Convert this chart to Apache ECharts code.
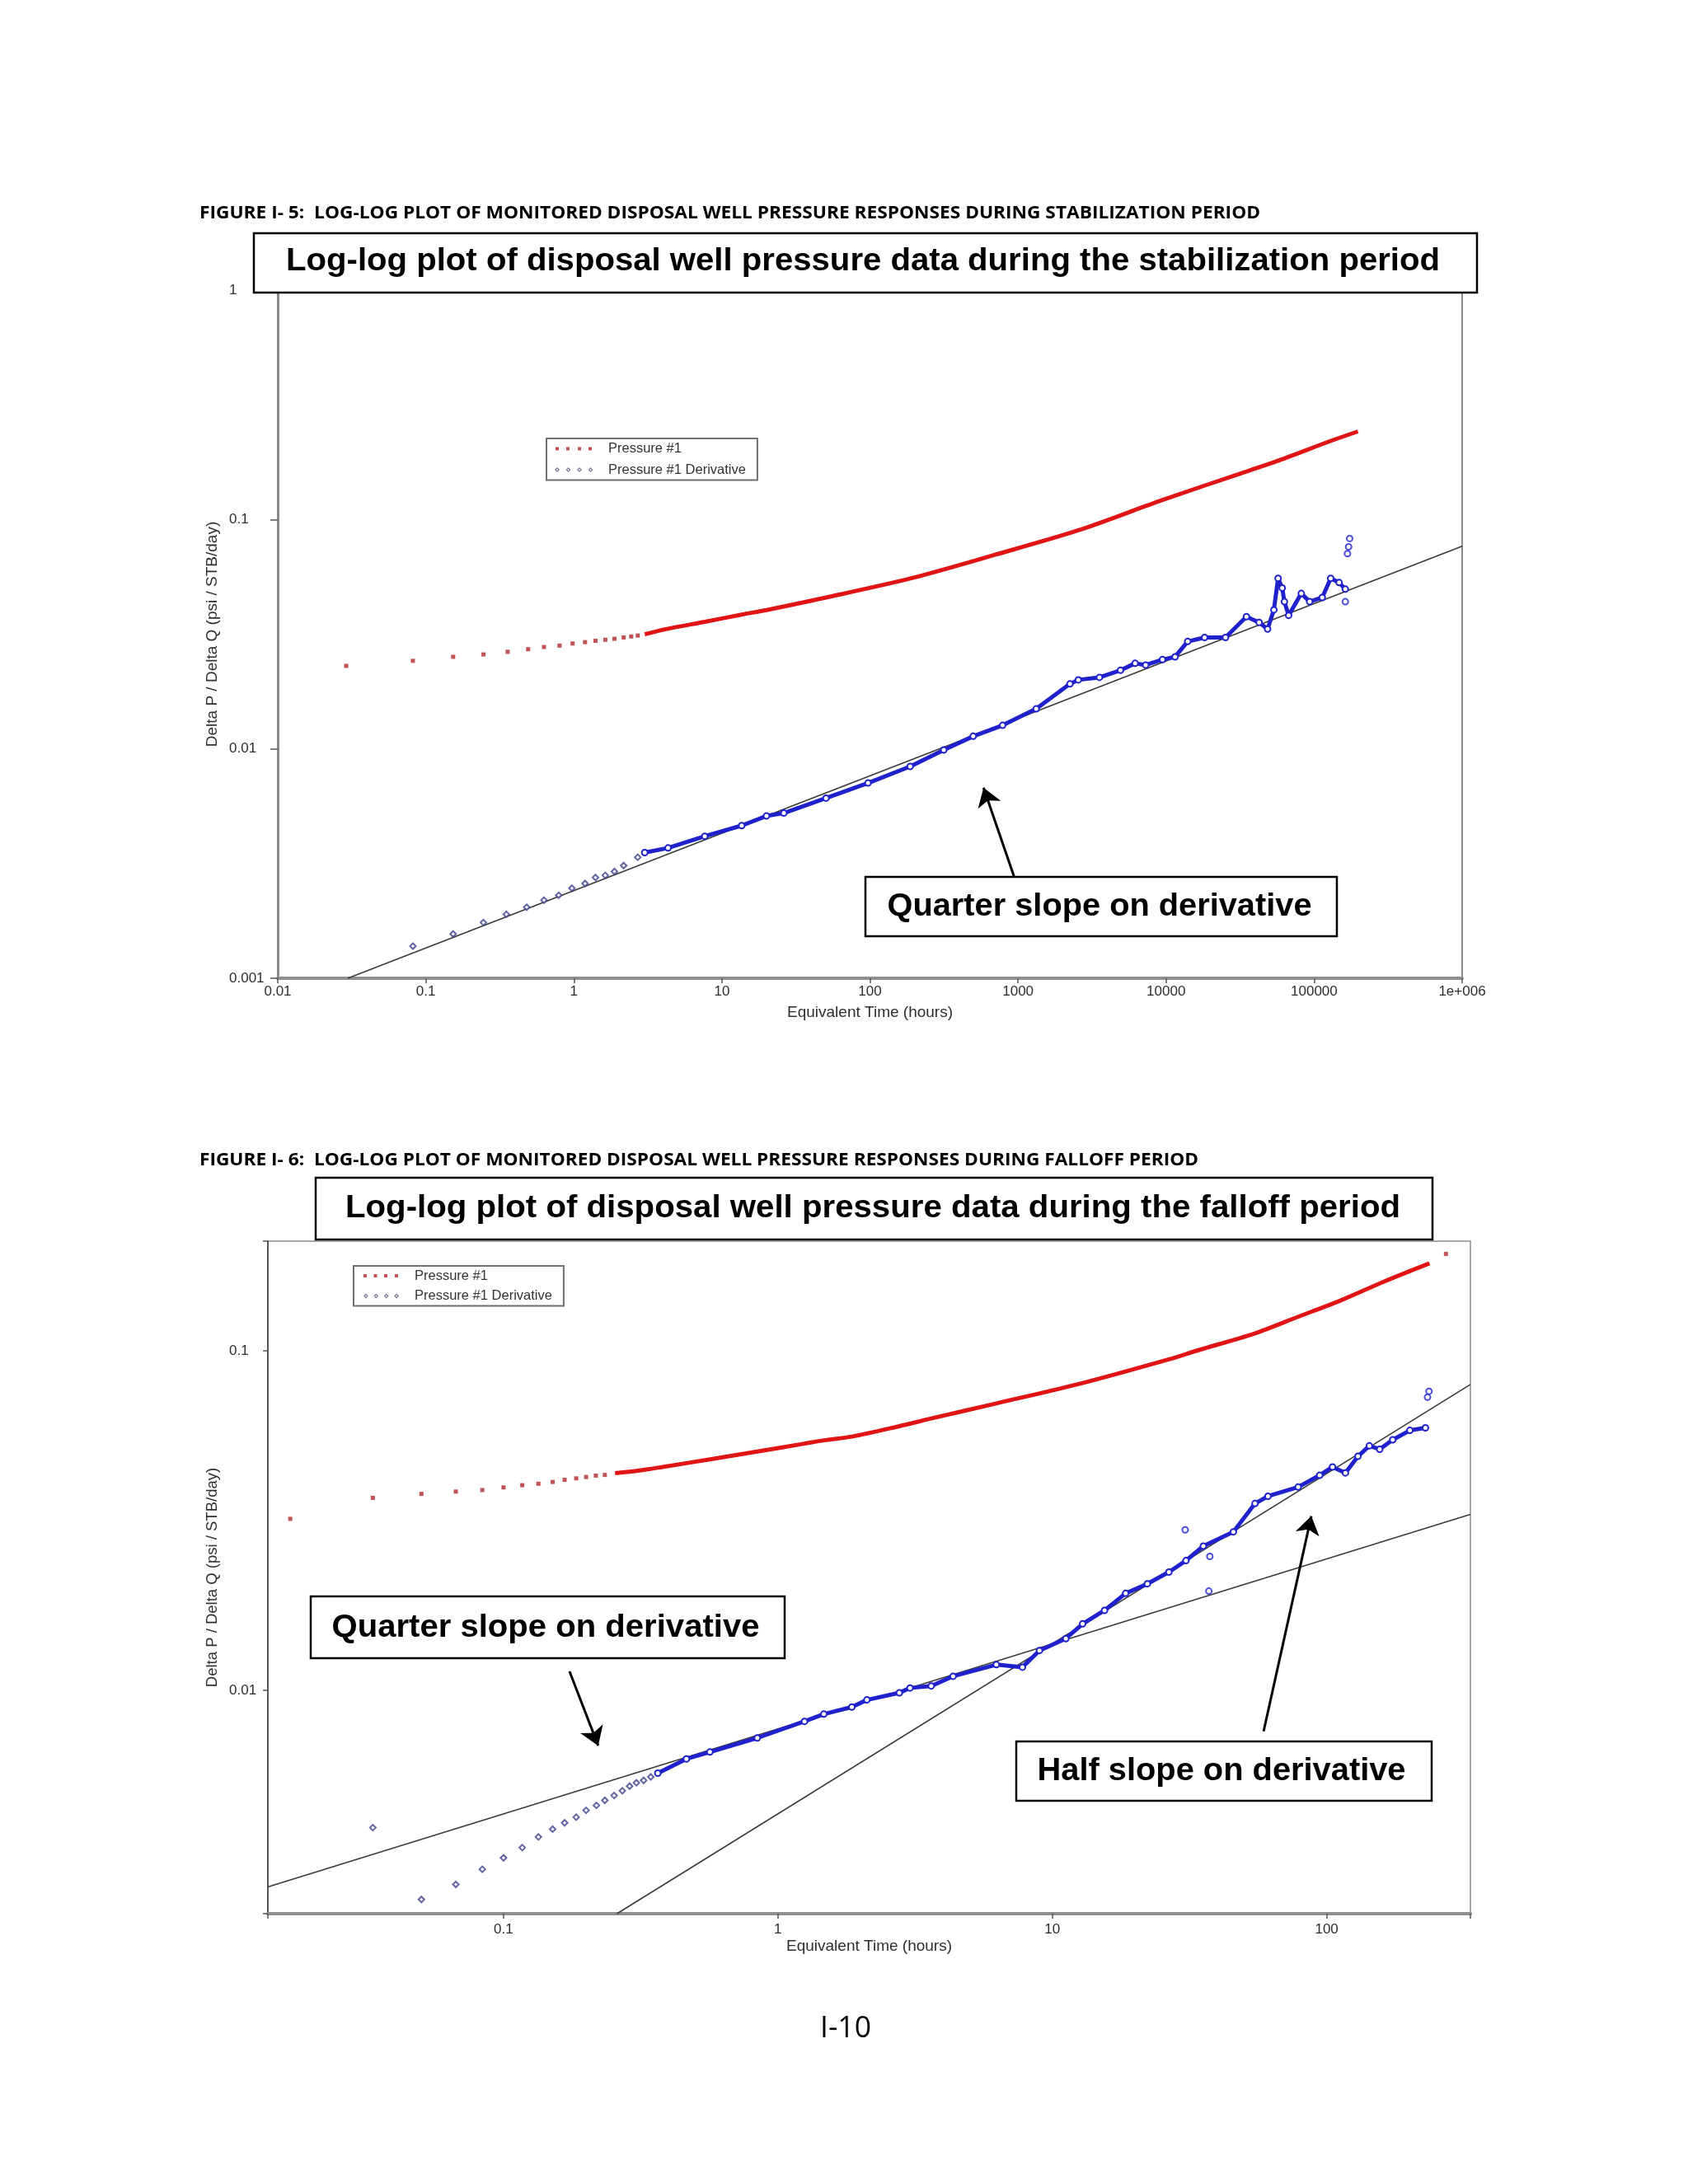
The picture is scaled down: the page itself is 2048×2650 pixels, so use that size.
<!DOCTYPE html>
<html><head><meta charset="utf-8">
<script src="https://cdn.jsdelivr.net/npm/echarts@6/dist/echarts.min.js"></script>
<style>html,body{margin:0;padding:0;background:#fff;}#c{width:2048px;height:2650px;}</style>
</head><body><div id="c"></div>
<script>
// ---------- Figure I-5 (stabilization period) ----------
const c1XTickValues = [0.01, 0.1, 1, 10, 100, 1000, 10000, 100000, 1000000];
const c1XTickLabels = ['0.01', '0.1', '1', '10', '100', '1000', '10000', '100000', '1e+006'];
const c1YTickValues = [0.001, 0.01, 0.1, 1];
const c1YTickLabels = ['0.001', '0.01', '0.1', '1'];

const c1PressureSparse = [[0.029,0.0230],[0.0818,0.0242],[0.153,0.0252],[0.245,0.0258],[0.357,0.0265],[0.491,0.0272],[0.628,0.0278],[0.80,0.0282],[0.98,0.0288],[1.19,0.0292],[1.40,0.0296],[1.63,0.0299],[1.88,0.0302],[2.17,0.0306],[2.44,0.0309],[2.70,0.0312]];
const c1PressureDense = [[3.01,0.0316],[4.33,0.0334],[7.66,0.0358],[13.6,0.0385],[20,0.0403],[50.5,0.0457],[187,0.0553],[690,0.0700],[2556,0.0897],[9460,0.1216],[34940,0.1620],[55300,0.179],[129500,0.220],[197800,0.242]];
const c1DerivSparse = [[0.0818,0.00138],[0.153,0.00156],[0.245,0.00175],[0.35,0.00190],[0.48,0.00204],[0.628,0.00219],[0.79,0.00230],[0.97,0.00247],[1.19,0.00259],[1.40,0.00275],[1.63,0.00281],[1.88,0.00292],[2.17,0.00310],[2.70,0.00337]];
const c1DerivDense = [[3.01,0.00353],[4.33,0.00370],[7.66,0.00416],[13.6,0.00463],[20.0,0.00510],[26.2,0.00525],[50.5,0.00610],[97,0.00710],[187,0.00838],[315,0.00989],[498,0.01135],[787,0.01267],[1327,0.01495],[2243,0.0192],[2556,0.0200],[3548,0.0205],[4920,0.0220],[6180,0.0236],[7280,0.0232],[9460,0.0245],[11510,0.0252],[14000,0.0294],[18200,0.0306],[25200,0.0306],[34900,0.0377],[42500,0.0356],[48500,0.0333],[53500,0.0404],[57100,0.0554],[60900,0.0503],[63000,0.0438],[67300,0.0382],[81900,0.0476],[93300,0.0438],[113500,0.0457],[129400,0.0554],[147500,0.0531],[162500,0.0497]];
const c1DerivOutliers = [[162500,0.0438],[168000,0.0710],[171000,0.0760],[173800,0.0826]];
const c1QuarterLine = [[0.0297,0.001],[1000000,0.0765]];
const c1Arrow = [[938,0.00279],[585,0.00678]];

// ---------- Figure I-6 (falloff period) ----------
const c2XTickValues = [0.1, 1, 10, 100];
const c2XTickLabels = ['0.1', '1', '10', '100'];
const c2YTickValues = [0.01, 0.1];
const c2YTickLabels = ['0.01', '0.1'];

const c2PressureSparse = [[0.0167,0.0320],[0.0334,0.0369],[0.0502,0.0379],[0.0670,0.0385],[0.0837,0.0389],[0.100,0.0396],[0.117,0.0402],[0.134,0.0406],[0.151,0.0411],[0.167,0.0417],[0.184,0.0421],[0.200,0.0425],[0.217,0.0429],[0.234,0.0431],[272,0.193]];
const c2PressureDense = [[0.255,0.0436],[0.312,0.0444],[0.380,0.0455],[0.565,0.0479],[0.841,0.0505],[1.25,0.0533],[1.47,0.0545],[1.86,0.0559],[2.77,0.0600],[3.62,0.0632],[6.25,0.0700],[12.9,0.0804],[26.6,0.0944],[34.3,0.1006],[54.8,0.1126],[78.7,0.126],[113,0.141],[162,0.160],[237,0.181]];
const c2DerivSparse = [[0.0334,0.00394],[0.0502,0.00242],[0.067,0.00268],[0.0837,0.00297],[0.100,0.00321],[0.117,0.00344],[0.134,0.00370],[0.151,0.00390],[0.167,0.00407],[0.184,0.00423],[0.200,0.00443],[0.218,0.00458],[0.234,0.00474],[0.253,0.00490],[0.271,0.00506],[0.288,0.00522],[0.305,0.00534],[0.324,0.00543],[0.344,0.00556]];
const c2DerivDense = [[0.365,0.00570],[0.464,0.00628],[0.565,0.00658],[0.841,0.00724],[1.25,0.00810],[1.47,0.00851],[1.86,0.00893],[2.11,0.00937],[2.77,0.00983],[3.03,0.01016],[3.62,0.0103],[4.35,0.0110],[6.25,0.0119],[7.78,0.0117],[8.98,0.0131],[11.2,0.0142],[12.9,0.0157],[15.5,0.0172],[18.5,0.0193],[22.2,0.0206],[26.6,0.0223],[30.7,0.0241],[35.5,0.0266],[45.7,0.0293],[54.8,0.0355],[61.1,0.0373],[78.7,0.0397],[94.3,0.0430],[105,0.0455],[117,0.0437],[130,0.0489],[143,0.0525],[156,0.0513],[174,0.0547],[201,0.0583],[229,0.0593]];
const c2DerivOutliers = [[30.5,0.0297],[37.5,0.0248],[37.2,0.0196],[233,0.0730],[236,0.0760]];
const c2QuarterLine = [[0.01384,0.002636],[334,0.0330]];
const c2HalfLine = [[0.259,0.002198],[334,0.0796]];
const c2ArrowQuarter = [[0.174,0.01137],[0.2213,0.00687]];
const c2ArrowHalf = [[58.9,0.00757],[87.9,0.0326]];

// ---------- texts ----------
const caption1 = 'FIGURE I- 5:  LOG-LOG PLOT OF MONITORED DISPOSAL WELL PRESSURE RESPONSES DURING STABILIZATION PERIOD';
const caption2 = 'FIGURE I- 6:  LOG-LOG PLOT OF MONITORED DISPOSAL WELL PRESSURE RESPONSES DURING FALLOFF PERIOD';
const title1 = 'Log-log plot of disposal well pressure data during the stabilization period';
const title2 = 'Log-log plot of disposal well pressure data during the falloff period';
const note1 = 'Quarter slope on derivative';
const note2 = 'Quarter slope on derivative';
const note3 = 'Half slope on derivative';
const pageNo = 'I-10';
const xName = 'Equivalent Time (hours)';
const yName = 'Delta P / Delta Q (psi / STB/day)';

const mctx = document.createElement('canvas').getContext('2d');
function fit(text, font, w) { mctx.font = font; return w / mctx.measureText(text).width; }

function tickFmt(values, labels) {
  return function (v) {
    const lv = Math.log10(v);
    for (let i = 0; i < values.length; i++) {
      if (Math.abs(lv - Math.log10(values[i])) < 1e-6) return labels[i];
    }
    return '';
  };
}

const F = 'Liberation Sans';
const fCap = 'bold 22px "Open Sans"';
const fTitle = 'bold 38px "Liberation Sans"';
const fNote = 'bold 39px "Liberation Sans"';
const fPage = '36px "Open Sans"';

const iconP1 = 'path://M0 0L0 0.01M61 7L61 6.99M2 1.5h4v4h-4zM15 1.5h4v4h-4zM29 1.5h4v4h-4zM42 1.5h4v4h-4z';
const iconD1 = 'path://M0 0L0 0.01M61 7L61 6.99' +
  [4, 17.5, 31, 44.5].map(c => `M${c} 0.6L${c+2.9} 3.5L${c} 6.4L${c-2.9} 3.5ZM${c} 2.3L${c-1.2} 3.5L${c} 4.7L${c+1.2} 3.5Z`).join('');
const iconP2 = 'path://M0 0L0 0.01M57 7L57 6.99M0 1.5h4v4h-4zM12.5 1.5h4v4h-4zM25 1.5h4v4h-4zM38 1.5h4v4h-4z';
const iconD2 = 'path://M0 0L0 0.01M57 7L57 6.99' +
  [2.5, 15, 27.5, 40].map(c => `M${c} 0.6L${c+2.9} 3.5L${c} 6.4L${c-2.9} 3.5ZM${c} 2.3L${c-1.2} 3.5L${c} 4.7L${c+1.2} 3.5Z`).join('');

const axisLabelStyle = { fontFamily: F, fontSize: 17, color: '#2e2e2e' };
const nameStyle = { fontFamily: F, fontSize: 19, color: '#2e2e2e' };

function textEl(text, font, x, y, w, align) {
  return { type: 'text', x: x, y: y, z: 101, scaleX: fit(text, font, w),
    style: { text: text, font: font, fill: '#000', align: align || 'center', verticalAlign: 'middle' } };
}
function boxEl(x, y, w, h) {
  return { type: 'rect', z: 100, shape: { x: x, y: y, width: w, height: h },
    style: { fill: '#fff', stroke: '#000', lineWidth: 2.5 } };
}

const redDot = '#b3282b', redLine = '#e01414', blue = '#1f22cc', navy = '#3c3f8c';

function seriesFor(ax, pS, pD, dS, dD, dO, refLines, arrows) {
  const s = [];
  refLines.forEach((ln, i) => {
    s.push({ type: 'line', name: 'ref' + ax + '_' + i, xAxisIndex: ax, yAxisIndex: ax, data: ln, showSymbol: false,
      silent: true, z: 3, lineStyle: { color: '#3a3a3a', width: 1.6 },
      markLine: i === 0 ? { silent: true, symbol: ['none', 'arrow'], symbolSize: 22, label: { show: false },
        lineStyle: { color: '#000', width: 3, type: 'solid' }, emphasis: { disabled: true },
        data: arrows.map(a => [{ coord: a[0] }, { coord: a[1] }]) } : undefined });
  });
  s.push({ type: 'line', name: 'Pressure #1 curve', xAxisIndex: ax, yAxisIndex: ax, data: pD, showSymbol: false,
    smooth: 0.3, z: 4, lineStyle: { color: redLine, width: 5 } });
  s.push({ type: 'scatter', name: 'Pressure #1', xAxisIndex: ax, yAxisIndex: ax, data: pS, symbol: 'rect',
    symbolSize: 5, z: 4, itemStyle: { color: redDot } });
  s.push({ type: 'line', name: 'Pressure #1 Derivative curve', xAxisIndex: ax, yAxisIndex: ax, data: dD,
    showSymbol: true, symbol: 'emptyCircle', symbolSize: 7, z: 5, lineStyle: { color: blue, width: 5 },
    itemStyle: { color: blue, borderWidth: 1.6 } });
  s.push({ type: 'scatter', name: 'Pressure #1 Derivative', xAxisIndex: ax, yAxisIndex: ax, data: dS,
    symbol: 'emptyDiamond', symbolSize: 7, z: 5, itemStyle: { color: navy, borderWidth: 1.3 } });
  s.push({ type: 'scatter', name: 'Derivative outliers', xAxisIndex: ax, yAxisIndex: ax, data: dO,
    symbol: 'emptyCircle', symbolSize: 7, z: 5, itemStyle: { color: blue, borderWidth: 1.5 } });
  return s;
}

const chart = echarts.init(document.getElementById('c'), null, { renderer: 'canvas', width: 2048, height: 2650 });
chart.setOption({
  animation: false,
  backgroundColor: '#fff',
  grid: [
    { left: 337, top: 352, width: 1437, height: 835, show: true, borderColor: '#8a8a8a', borderWidth: 2, backgroundColor: '#fff' },
    { left: 325, top: 1506, width: 1459, height: 816, show: true, borderColor: '#8e8e8e', borderWidth: 1.5, backgroundColor: '#fff' }
  ],
  xAxis: [
    { type: 'log', gridIndex: 0, min: 0.01, max: 1000000, logBase: 10,
      axisLine: { lineStyle: { color: '#8f8f8f', width: 4 } }, axisTick: { length: 6, lineStyle: { color: '#555', width: 1.5 } },
      splitLine: { show: false }, minorTick: { show: false },
      axisLabel: Object.assign({ margin: 8, formatter: tickFmt(c1XTickValues, c1XTickLabels) }, axisLabelStyle),
      name: xName, nameLocation: 'middle', nameGap: 32, nameTextStyle: nameStyle },
    { type: 'log', gridIndex: 1, min: 0.01384, max: 334, logBase: 10,
      axisLine: { lineStyle: { color: '#8f8f8f', width: 4 } }, axisTick: { length: 6, lineStyle: { color: '#555', width: 1.5 } },
      splitLine: { show: false },
      axisLabel: Object.assign({ margin: 11, formatter: tickFmt(c2XTickValues, c2XTickLabels) }, axisLabelStyle),
      name: xName, nameLocation: 'middle', nameGap: 30, nameTextStyle: nameStyle }
  ],
  yAxis: [
    { type: 'log', gridIndex: 0, min: 0.001, max: 1, logBase: 10,
      axisLine: { show: true, lineStyle: { color: '#8a8a8a', width: 3 } }, axisTick: { show: true, length: 9, lineStyle: { color: '#555', width: 1.5 } },
      splitLine: { show: false },
      axisLabel: Object.assign({ margin: 59, align: 'left', formatter: tickFmt(c1YTickValues, c1YTickLabels) }, axisLabelStyle),
      name: yName, nameLocation: 'middle', nameGap: 68, nameTextStyle: nameStyle },
    { type: 'log', gridIndex: 1, min: 0.002198, max: 0.2104, logBase: 10,
      axisLine: { show: true, lineStyle: { color: '#555', width: 2 } }, axisTick: { show: true, length: 6, lineStyle: { color: '#555', width: 1.5 } },
      splitLine: { show: false },
      axisLabel: Object.assign({ margin: 47, align: 'left', formatter: tickFmt(c2YTickValues, c2YTickLabels) }, axisLabelStyle),
      name: yName, nameLocation: 'middle', nameGap: 57, nameTextStyle: Object.assign({}, nameStyle, { fontSize: 18.5 }) }
  ],
  legend: [
    { left: 663, top: 532, orient: 'vertical', selectedMode: false, padding: [4, 14, 4, 9], itemGap: 8.5,
      itemWidth: 61, itemHeight: 7, borderColor: '#6f6f6f', borderWidth: 2, backgroundColor: '#fff',
      textStyle: { fontFamily: F, fontSize: 16.5, color: '#333' },
      data: [{ name: 'Pressure #1', icon: iconP1, itemStyle: { color: redDot, borderWidth: 0 } },
             { name: 'Pressure #1 Derivative', icon: iconD1, itemStyle: { color: '#55587a', borderWidth: 0 } }] },
    { left: 429, top: 1536, orient: 'vertical', selectedMode: false, padding: [3.5, 14, 3.5, 12], itemGap: 7.5,
      itemWidth: 57, itemHeight: 7, borderColor: '#6f6f6f', borderWidth: 2, backgroundColor: '#fff',
      textStyle: { fontFamily: F, fontSize: 16.5, color: '#333' },
      data: [{ name: 'Pressure #1', icon: iconP2, itemStyle: { color: redDot, borderWidth: 0 } },
             { name: 'Pressure #1 Derivative', icon: iconD2, itemStyle: { color: '#55587a', borderWidth: 0 } }] }
  ],
  series: [].concat(
    seriesFor(0, c1PressureSparse, c1PressureDense, c1DerivSparse, c1DerivDense, c1DerivOutliers, [c1QuarterLine], [c1Arrow]),
    seriesFor(1, c2PressureSparse, c2PressureDense, c2DerivSparse, c2DerivDense, c2DerivOutliers, [c2QuarterLine, c2HalfLine], [c2ArrowQuarter, c2ArrowHalf])
  ),
  graphic: { elements: [
    textEl(caption1, fCap, 242, 259, 1287, 'left'),
    textEl(caption2, fCap, 242, 1408, 1212, 'left'),
    boxEl(308, 283, 1484, 72),
    textEl(title1, fTitle, 1047, 318, 1400),
    boxEl(383, 1429, 1355, 75),
    textEl(title2, fTitle, 1059, 1467, 1280),
    boxEl(1050, 1064, 572, 72),
    textEl(note1, fNote, 1334, 1100, 515),
    boxEl(377, 1937, 575, 75),
    textEl(note2, fNote, 662, 1975, 519),
    boxEl(1233, 2113, 504, 72),
    textEl(note3, fNote, 1482, 2149, 447),
    textEl(pageNo, fPage, 1026, 2462, 62)
  ] }
});
</script></body></html>
